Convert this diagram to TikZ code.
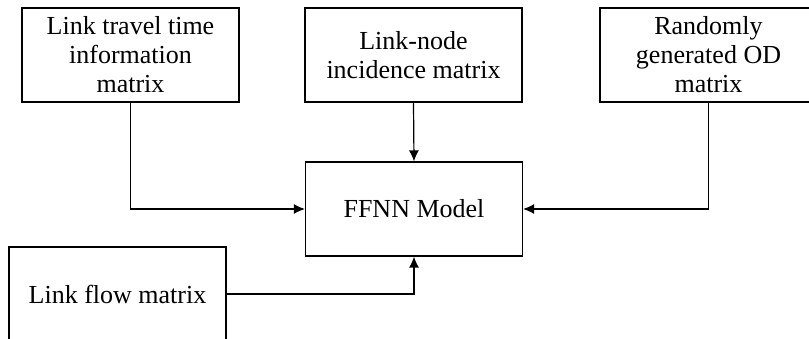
\documentclass[tikz,border=0pt]{standalone}
\usepackage{fontspec}
\setmainfont{Liberation Serif}
\usetikzlibrary{arrows.meta}
\begin{document}
\begin{tikzpicture}[x=1pt,y=-1pt,line width=1.2pt,font=\fontsize{26}{29}\selectfont]

\tikzstyle{block}=[draw=black,rectangle,align=center,minimum width=217pt,minimum height=94pt,inner sep=0pt]
\tikzstyle{feed}=[-{Latex[length=11pt,width=10pt]}]

    \useasboundingbox (0,0) rectangle (809,339);

    \node[block] at (130.5,55)  (travel) {Link travel time\\information\\matrix};
    \node[block] at (413.5,55)  (incid)  {Link-node\\incidence matrix};
    \node[block] at (708.5,55)  (odm)    {Randomly\\generated OD\\matrix};
    \node[block] at (414,209)   (ffnn)   {FFNN Model};
    \node[block] at (117.5,294) (flow)   {Link flow matrix};

	\draw[feed] (travel.south) |- (ffnn.west);
	\draw[feed] (incid.south)  -- (ffnn.north);
	\draw[feed] (odm.south)    |- (ffnn.east);
	\draw[feed] (flow.east)    -| (ffnn.south);

\end{tikzpicture}
\end{document}
